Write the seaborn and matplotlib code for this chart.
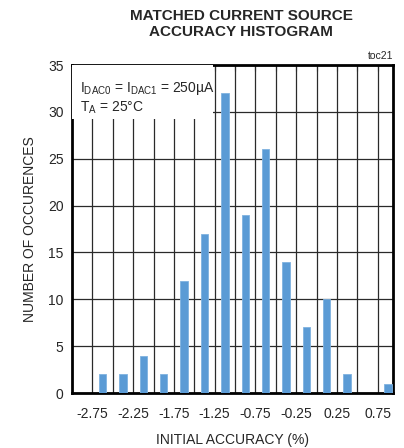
import numpy as np
import pandas as pd
import seaborn as sns
import matplotlib
matplotlib.use("Agg")
import matplotlib.pyplot as plt
from matplotlib.patches import Rectangle

# bin centres (%) and counts
accuracy = [-2.625, -2.375, -2.125, -1.875, -1.625, -1.375, -1.125, -0.875,
            -0.625, -0.375, -0.125, 0.125, 0.375, 0.625, 0.875]
counts = [2, 2, 4, 2, 12, 17, 32, 19, 26, 14, 7, 10, 2, 0, 1]
xtick_vals = [-2.75, -2.25, -1.75, -1.25, -0.75, -0.25, 0.25, 0.75]
xtick_labels = ["-2.75", "-2.25", "-1.75", "-1.25", "-0.75", "-0.25", "0.25", "0.75"]

df = pd.DataFrame({"accuracy": accuracy, "count": counts})

sns.set_style("white")
plt.rcParams["font.family"] = ["Liberation Sans", "DejaVu Sans"]
plt.rcParams["mathtext.default"] = "regular"

fig = plt.figure(figsize=(4.04, 4.48), dpi=100)
ax = fig.add_axes([72 / 404, 1 - 393 / 448, 321 / 404, 328 / 448])

sns.barplot(data=df, x="accuracy", y="count", native_scale=True, width=0.36,
            color="#5B9BD5", saturation=1, edgecolor="#7FB2E0", linewidth=0.6,
            ax=ax, zorder=3)

ax.set_xlim(-3.0, 0.9375)
ax.set_ylim(0, 35)
ax.set_xticks(np.arange(-2.75, 0.8, 0.25), minor=True)
ax.set_xticks(xtick_vals)
ax.set_xticklabels(xtick_labels, fontsize=10)
ax.set_yticks(range(0, 36, 5))
ax.set_yticklabels([str(v) for v in range(0, 36, 5)], fontsize=10)
ax.grid(True, which="both", axis="x", color="#2a2a2a", linewidth=0.9, zorder=0)
ax.grid(True, which="major", axis="y", color="#2a2a2a", linewidth=0.9, zorder=0)
ax.set_axisbelow(True)
ax.tick_params(axis="both", which="both", direction="in", length=4, width=0.8,
               top=True, pad=6, color="#2a2a2a")
ax.tick_params(axis="x", pad=10)
for s in ax.spines.values():
    s.set_linewidth(2)
    s.set_color("black")

ax.set_xlabel("INITIAL ACCURACY (%)", fontsize=10, labelpad=9)
ax.set_ylabel("NUMBER OF OCCURENCES", fontsize=10, labelpad=8)

# conditions box over the grid
ax.add_patch(Rectangle((0, 0.835), 0.439, 0.165, transform=ax.transAxes,
                       facecolor="white", edgecolor="none", zorder=4))
ax.text(8.5 / 321, 1 - 23 / 328, "I$_{DAC0}$ = I$_{DAC1}$ = 250µA",
        transform=ax.transAxes, ha="left", va="center", fontsize=10, zorder=5)
ax.text(8.5 / 321, 1 - 43 / 328, "T$_{A}$ = 25°C",
        transform=ax.transAxes, ha="left", va="center", fontsize=10, zorder=5)

fig.text(241 / 404, 1 - 9 / 448, "MATCHED CURRENT SOURCE\nACCURACY HISTOGRAM",
         ha="center", va="top", fontsize=11, fontweight="bold", linespacing=1.2)
fig.text(393 / 404, 1 - 56 / 448, "toc21", ha="right", va="center", fontsize=7.5)

fig.savefig("out.png", dpi=100)
